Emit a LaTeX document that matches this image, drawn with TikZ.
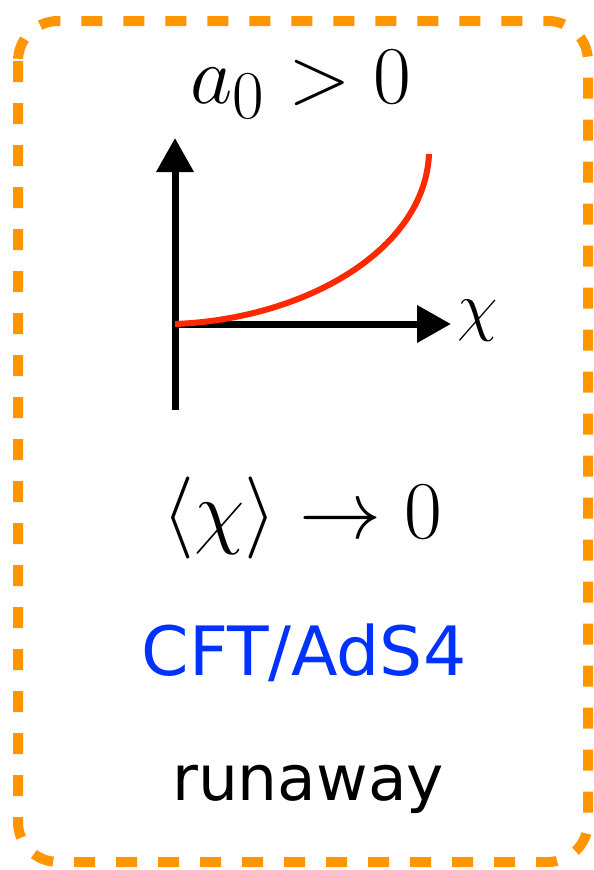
\documentclass[tikz,border=0pt]{standalone}
\usepackage{graphicx}
\usepackage{fontspec}
\newfontfamily\labelfont{DejaVu Sans}
\usetikzlibrary{arrows.meta}
\definecolor{boxorange}{RGB}{255,150,0}
\definecolor{curvered}{RGB}{255,40,0}
\definecolor{textblue}{RGB}{0,50,255}
\tikzset{
  frame/.style={draw=boxorange, line width=10pt, dash pattern=on 21pt off 21pt, rounded corners=40pt},
  axis/.style={line width=7pt, -{Triangle[length=34pt,width=36pt]}},
  bigmath/.style={inner sep=0pt, anchor=base, font=\Huge},
  biglabel/.style={font=\labelfont\fontsize{68}{76}\selectfont, inner sep=0pt, anchor=base}
}
\begin{document}
\begin{tikzpicture}[x=1pt,y=-1pt]
\useasboundingbox (0,0) rectangle (594,870);
\draw[frame] (18,21) rectangle (588,862);
\coordinate (origin) at (175,324);
\coordinate (ybottom) at (175,410);
\coordinate (ytop) at (175,138);
\coordinate (xend) at (451,324);
\coordinate (cend) at (429,154);
\draw[axis] (ybottom) -- (ytop);
\draw[axis] (origin) -- (xend);
\draw[curvered, line width=6pt] (origin) .. controls (305,319) and (425,250) .. (cend);
\node[inner sep=0pt, font=\Huge] (chi) at (478,321) {\scalebox{2.65}{$\chi$}};
\node[bigmath] (cond) at (301,103) {\scalebox{3.3}{$a_0>0$}};
\node[bigmath] (vev) at (302,538) {\scalebox{3.3}{$\langle\chi\rangle\to0$}};
\node[biglabel, text=textblue] (cft) at (304,675) {CFT/AdS4};
\node[biglabel, font=\labelfont\fontsize{63}{70}\selectfont] (run) at (308,800) {runaway};
\end{tikzpicture}
\end{document}
